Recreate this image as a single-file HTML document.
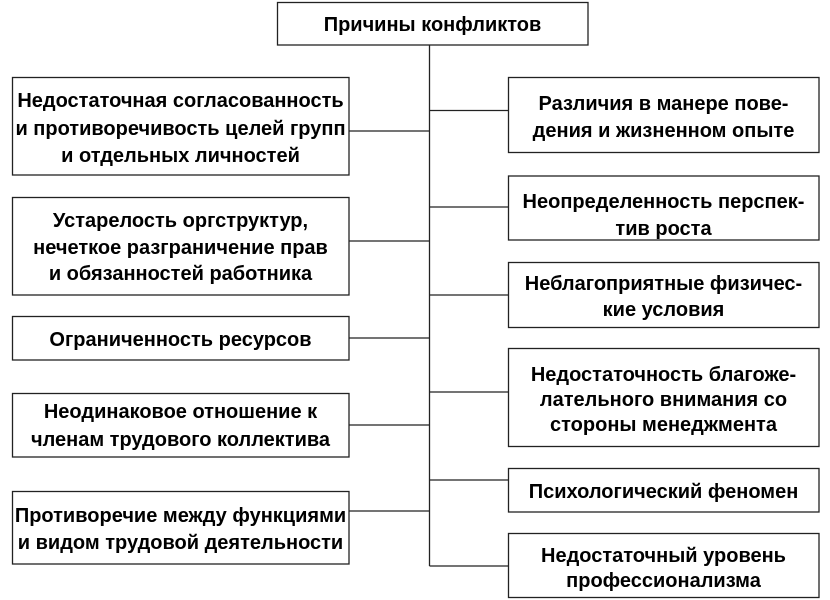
<!DOCTYPE html>
<html>
<head>
<meta charset="utf-8">
<style>
  html, body { margin:0; padding:0; background:#fff; }
  svg { display:block; }
  text { font-family: "Liberation Sans", Arial, sans-serif; font-weight: bold; font-size: 20px; fill: #000; text-anchor: middle; }
  .b { fill:#fff; stroke:#222; stroke-width:1.3; }
  .l { stroke:#222; stroke-width:1.3; fill:none; }
</style>
</head>
<body>
<svg width="830" height="600" viewBox="0 0 830 600" xmlns="http://www.w3.org/2000/svg">
  <!-- connectors -->
  <line class="l" x1="429.5" y1="45" x2="429.5" y2="566"/>
  <line class="l" x1="349" y1="131" x2="429.5" y2="131"/>
  <line class="l" x1="349" y1="241" x2="429.5" y2="241"/>
  <line class="l" x1="349" y1="338" x2="429.5" y2="338"/>
  <line class="l" x1="349" y1="425" x2="429.5" y2="425"/>
  <line class="l" x1="349" y1="511" x2="429.5" y2="511"/>
  <line class="l" x1="429.5" y1="110.5" x2="508" y2="110.5"/>
  <line class="l" x1="429.5" y1="207" x2="508" y2="207"/>
  <line class="l" x1="429.5" y1="295" x2="508" y2="295"/>
  <line class="l" x1="429.5" y1="392" x2="508" y2="392"/>
  <line class="l" x1="429.5" y1="480" x2="508" y2="480"/>
  <line class="l" x1="429.5" y1="566" x2="508" y2="566"/>

  <!-- title -->
  <rect class="b" x="277.5" y="2.5" width="310.5" height="42.5"/>
  <text x="432.5" y="31">Причины конфликтов</text>

  <!-- left boxes -->
  <rect class="b" x="12.5" y="77.5" width="336.5" height="97.5"/>
  <text x="180.5" y="107">Недостаточная согласованность</text>
  <text x="180.5" y="135">и противоречивость целей групп</text>
  <text x="180.5" y="162">и отдельных личностей</text>

  <rect class="b" x="12.5" y="197.5" width="336.5" height="97.5"/>
  <text x="180.5" y="227">Устарелость оргструктур,</text>
  <text x="180.5" y="254">нечеткое разграничение прав</text>
  <text x="180.5" y="280">и обязанностей работника</text>

  <rect class="b" x="12.5" y="316.5" width="336.5" height="43.5"/>
  <text x="180.5" y="346">Ограниченность ресурсов</text>

  <rect class="b" x="12.5" y="393.5" width="336.5" height="63.5"/>
  <text x="180.5" y="418">Неодинаковое отношение к</text>
  <text x="180.5" y="446">членам трудового коллектива</text>

  <rect class="b" x="12.5" y="491.5" width="336.5" height="72.5"/>
  <text x="180.5" y="522">Противоречие между функциями</text>
  <text x="180.5" y="549">и видом трудовой деятельности</text>

  <!-- right boxes -->
  <rect class="b" x="508.5" y="77.5" width="310.5" height="75"/>
  <text x="663.5" y="110">Различия в манере пове-</text>
  <text x="663.5" y="137">дения и жизненном опыте</text>

  <rect class="b" x="508.5" y="176" width="310.5" height="64"/>
  <text x="663.5" y="208">Неопределенность перспек-</text>
  <text x="663.5" y="235">тив роста</text>

  <rect class="b" x="508.5" y="262.5" width="310.5" height="65"/>
  <text x="663.5" y="290">Неблагоприятные физичес-</text>
  <text x="663.5" y="316">кие условия</text>

  <rect class="b" x="508.5" y="348.5" width="310.5" height="98"/>
  <text x="663.5" y="381">Недостаточность благоже-</text>
  <text x="663.5" y="406">лательного внимания со</text>
  <text x="663.5" y="431">стороны менеджмента</text>

  <rect class="b" x="508.5" y="468.5" width="310.5" height="43.5"/>
  <text x="663.5" y="498">Психологический феномен</text>

  <rect class="b" x="508.5" y="533.5" width="310.5" height="64"/>
  <text x="663.5" y="562">Недостаточный уровень</text>
  <text x="663.5" y="587">профессионализма</text>
</svg>
</body>
</html>
